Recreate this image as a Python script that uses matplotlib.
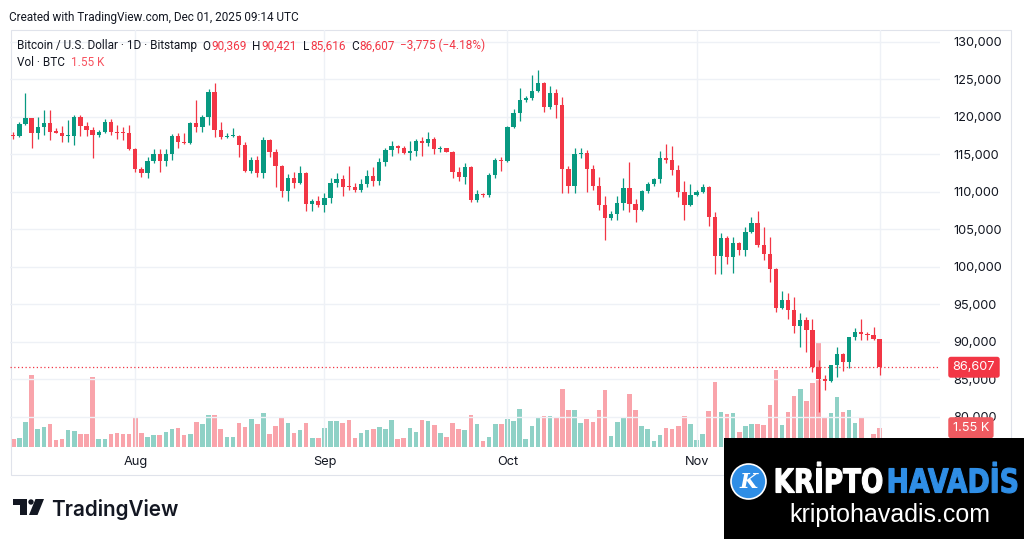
"""BTC/USD daily candles with volume, TradingView-style snapshot."""

import matplotlib

matplotlib.use("Agg")

import matplotlib.dates as mdates
import matplotlib.pyplot as plt
import matplotlib.transforms as mtransforms
import numpy as np
import pandas as pd
from matplotlib.font_manager import FontProperties
from matplotlib.patches import Circle, PathPatch, Polygon, Rectangle
from matplotlib.textpath import TextPath

W, H = 1024, 539
UP = "#089981"
DOWN = "#F23645"
TEXT = "#131722"
GRID = "#EEF1F6"
FONT = ["Inter", "DejaVu Sans"]
HEAD_FONT = ["Roboto", "DejaVu Sans"]
HEAD_SIZE = 8.45

plt.rcParams["font.family"] = FONT

dates = pd.date_range("2025-07-12", "2025-12-01", freq="D")

# daily OHLC, thousands of USD
opens = [
    117.6, 117.5, 119.0, 119.8, 117.8, 118.7, 119.2, 118.1, 117.9, 117.4,
    117.5, 120.0, 118.8, 118.3, 117.6, 118.0, 119.35, 118.0, 117.9, 117.8,
    115.7, 113.1, 112.5, 114.1, 115.0, 114.1, 115.0, 117.4, 116.7, 116.5,
    119.2, 118.7, 120.0, 123.3, 118.3, 117.35, 117.45, 117.5, 116.2, 112.8,
    114.2, 112.5, 116.9, 115.35, 113.4, 110.1, 111.8, 111.2, 112.5, 108.4,
    108.8, 108.25, 109.2, 111.2, 111.7, 110.7, 110.6, 110.2, 111.05, 112.1,
    111.5, 114.0, 115.6, 116.1, 115.9, 115.2, 115.4, 116.8, 116.45, 117.0,
    115.7, 115.8, 115.35, 112.7, 112.0, 113.35, 108.9, 109.7, 109.55, 112.2,
    114.3, 114.1, 118.6, 120.5, 122.2, 122.5, 123.4, 124.5, 121.35, 123.2,
    121.6, 113.0, 110.8, 115.0, 115.2, 113.1, 110.8, 108.2, 106.5, 107.1,
    108.55, 110.5, 108.4, 107.6, 110.1, 111.0, 111.65, 114.5, 114.2, 112.9,
    110.0, 108.2, 109.6, 110.0, 110.6, 106.6, 101.4, 103.9, 101.35, 103.2,
    102.3, 104.7, 105.9, 102.9, 101.7, 99.7, 94.5, 95.6, 94.2, 92.15,
    92.9, 91.6, 86.6, 85.0, 84.8, 86.9, 88.4, 87.35, 90.6, 91.35,
    91.0, 90.9, 90.369,
]
highs = [
    118.0, 119.3, 123.2, 119.8, 120.0, 120.9, 120.9, 118.5, 118.8, 119.6,
    120.2, 120.2, 119.3, 118.7, 118.2, 119.7, 119.7, 118.9, 118.7, 118.9,
    115.8, 113.3, 114.7, 115.7, 115.7, 115.7, 117.7, 117.9, 117.9, 119.35,
    122.2, 120.2, 123.7, 124.5, 119.35, 117.9, 118.5, 117.6, 116.7, 114.6,
    114.8, 117.35, 117.0, 115.7, 113.6, 112.4, 112.7, 113.4, 112.6, 109.0,
    109.4, 109.9, 111.8, 112.55, 112.2, 113.4, 111.2, 111.7, 112.9, 113.35,
    114.5, 115.9, 116.8, 116.3, 116.1, 116.8, 117.0, 117.35, 118.0, 117.35,
    116.1, 115.9, 115.5, 113.3, 113.9, 113.4, 110.2, 109.8, 112.5, 114.5,
    114.7, 118.8, 121.1, 123.8, 122.8, 125.6, 126.2, 124.7, 124.1, 123.7,
    122.6, 113.4, 115.8, 115.9, 115.6, 113.6, 112.0, 109.4, 107.5, 109.4,
    111.8, 114.0, 109.0, 110.25, 111.35, 111.9, 115.5, 116.4, 116.1, 113.6,
    111.5, 111.0, 110.2, 111.1, 110.8, 107.35, 104.55, 104.1, 104.0, 103.3,
    105.35, 106.6, 107.5, 105.3, 104.0, 99.8, 96.8, 96.5, 96.0, 93.8,
    93.3, 93.1, 87.6, 85.6, 86.9, 89.35, 88.55, 90.7, 91.8, 93.1,
    91.35, 92.0, 90.421,
]
lows = [
    117.1, 117.3, 118.9, 115.8, 117.1, 117.6, 116.9, 117.8, 116.6, 116.7,
    116.2, 117.4, 117.4, 114.5, 117.3, 117.9, 117.6, 117.0, 116.9, 115.6,
    112.7, 112.0, 111.9, 113.8, 112.7, 113.4, 114.3, 115.9, 116.4, 116.4,
    118.0, 118.0, 118.9, 117.3, 117.1, 117.2, 117.3, 114.7, 112.7, 112.5,
    112.0, 111.8, 114.6, 110.7, 109.35, 108.8, 110.5, 111.0, 107.5, 107.5,
    108.0, 107.35, 108.5, 110.6, 109.4, 110.2, 110.0, 110.0, 110.7, 110.8,
    110.9, 113.4, 114.8, 115.2, 115.0, 114.3, 114.8, 114.8, 116.1, 115.1,
    115.35, 115.3, 111.9, 111.5, 111.1, 108.7, 108.7, 109.3, 109.35, 111.8,
    112.8, 114.0, 118.5, 119.5, 122.0, 122.2, 123.3, 120.7, 121.1, 119.8,
    109.8, 109.8, 109.8, 114.5, 110.0, 110.2, 107.6, 103.6, 106.3, 106.2,
    107.6, 107.35, 106.0, 107.5, 109.9, 110.8, 111.2, 113.9, 112.2, 109.35,
    106.2, 108.1, 109.4, 109.8, 105.4, 99.1, 99.1, 100.4, 99.2, 101.6,
    101.4, 104.5, 102.6, 100.9, 98.0, 94.0, 94.4, 93.0, 91.2, 89.3,
    88.6, 86.0, 80.7, 83.6, 84.7, 85.35, 86.15, 86.5, 90.2, 90.3,
    90.3, 90.2, 85.616,
]
closes = [
    117.5, 119.0, 119.8, 117.8, 118.7, 119.2, 118.0, 117.9, 117.4, 117.5,
    120.0, 118.8, 118.3, 117.6, 118.0, 119.35, 118.0, 117.9, 117.8, 115.7,
    113.1, 112.5, 114.1, 115.0, 114.1, 115.0, 117.4, 116.7, 116.5, 119.2,
    118.7, 120.0, 123.3, 118.3, 117.35, 117.45, 117.5, 116.2, 112.8, 114.2,
    112.5, 116.9, 115.35, 113.4, 110.1, 111.8, 111.2, 112.5, 108.4, 108.8,
    108.25, 109.2, 111.2, 111.7, 110.7, 110.6, 110.2, 111.05, 112.1, 111.5,
    114.0, 115.6, 116.1, 115.9, 115.2, 115.4, 116.8, 116.45, 117.0, 115.7,
    115.8, 115.35, 112.7, 112.0, 113.35, 108.9, 109.7, 109.55, 112.2, 114.3,
    114.1, 118.6, 120.5, 122.2, 122.5, 123.4, 124.5, 121.35, 123.2, 121.6,
    113.0, 110.8, 115.0, 115.2, 113.1, 110.8, 108.2, 106.5, 107.1, 108.55,
    110.5, 108.4, 107.6, 110.1, 111.0, 111.65, 114.5, 114.2, 112.9, 110.0,
    108.2, 109.6, 110.0, 110.6, 106.6, 101.4, 103.9, 101.35, 103.2, 102.3,
    104.7, 105.9, 102.9, 101.7, 99.7, 94.5, 95.6, 94.2, 92.15, 92.9,
    91.6, 86.6, 85.0, 84.8, 86.9, 88.4, 87.35, 90.6, 91.35, 91.0,
    90.9, 90.382, 86.607,
]
# daily volume, thousands of BTC
volumes = [
    0.67, 0.69, 2.00, 5.75, 1.47, 1.60, 1.82, 0.59, 0.67, 1.34,
    1.28, 1.02, 1.07, 5.61, 0.61, 0.61, 1.07, 1.15, 1.02, 1.02,
    2.30, 1.12, 0.80, 0.96, 0.96, 1.23, 1.44, 1.55, 0.96, 1.02,
    2.03, 1.82, 2.57, 2.54, 1.47, 0.80, 0.80, 1.90, 1.63, 2.22,
    1.87, 2.70, 1.02, 1.68, 2.40, 1.90, 1.10, 1.34, 1.95, 0.75,
    0.72, 1.55, 2.08, 2.08, 1.90, 2.16, 0.75, 1.15, 1.36, 1.47,
    1.60, 1.47, 2.14, 0.67, 0.75, 1.50, 1.23, 2.14, 2.08, 1.76,
    1.12, 0.80, 1.95, 1.47, 1.34, 2.57, 1.82, 0.48, 0.80, 1.87,
    1.87, 2.27, 2.08, 3.02, 0.67, 1.66, 2.40, 2.46, 2.51, 2.35,
    4.62, 2.94, 2.94, 1.92, 2.24, 2.00, 2.94, 4.54, 0.86, 2.00,
    2.40, 4.28, 2.94, 1.71, 1.42, 0.48, 0.94, 1.50, 1.42, 1.66,
    2.46, 1.82, 0.56, 1.02, 2.89, 5.24, 2.83, 2.67, 2.75, 1.23,
    1.68, 1.82, 1.82, 1.76, 3.34, 6.15, 1.76, 2.83, 4.09, 4.68,
    3.69, 5.10, 8.31, 2.40, 2.75, 4.01, 2.83, 2.94, 1.92, 2.35,
    0.69, 1.07, 1.55,
]
month_ticks = pd.to_datetime(["2025-08-01", "2025-09-01", "2025-10-01",
                              "2025-11-01", "2025-12-01"])
price_ticks = np.arange(80_000, 130_001, 5_000)

o = np.array(opens) * 1000
h = np.array(highs) * 1000
l = np.array(lows) * 1000
c = np.array(closes) * 1000
v = np.array(volumes)
x = mdates.date2num(dates)
up = c >= o
colors = np.where(up, UP, DOWN)

# image pixels (y down) -> display
PX = mtransforms.Affine2D().scale(1, -1).translate(0, H)

fig = plt.figure(figsize=(W / 100, H / 100), dpi=100, facecolor="white")
left, right, top, bottom = 10, 940, 30, 447
ax = fig.add_axes([left / W, 1 - bottom / H, (right - left) / W, (bottom - top) / H])
vol_ax = ax.twinx()
ax.set_zorder(vol_ax.get_zorder() + 1)
ax.patch.set_visible(False)

vol_ax.bar(x, v, width=0.75, color=colors, alpha=0.45, linewidth=0)
vol_ax.set_ylim(0, (bottom - top) / 12.47)
vol_ax.yaxis.set_visible(False)

ax.vlines(x, l, h, colors=colors, linewidth=0.9, zorder=2)
body = np.maximum(np.abs(c - o), 120)
ax.bar(x, body, bottom=np.minimum(o, c), width=0.7, color=colors, linewidth=0, zorder=3)

ax.set_xlim(x[0] - 0.54, x[0] + 151.9)
ax.set_ylim(75_973, 131_573)
ax.yaxis.tick_right()
ax.set_yticks(price_ticks)
ax.yaxis.set_major_formatter(plt.FuncFormatter(lambda val, _: f"{val:,.0f}"))
ax.set_xticks(mdates.date2num(month_ticks))
ax.xaxis.set_major_formatter(mdates.DateFormatter("%b"))
ax.tick_params(axis="y", length=0, pad=9.4, labelsize=9.2, labelcolor=TEXT)
ax.tick_params(axis="x", length=0, pad=6.5, labelsize=9.2, labelcolor=TEXT)
for axis in (ax, vol_ax):
    for spine in axis.spines.values():
        spine.set_visible(False)
for t in price_ticks:
    ax.axhline(t, color=GRID, linewidth=1, zorder=0)
for t in mdates.date2num(month_ticks):
    ax.axvline(t, color=GRID, linewidth=1, zorder=0)

# last price line and scale tags
ax.axhline(c[-1], color=DOWN, linestyle=(0, (1, 2)), linewidth=0.9, zorder=1)
ax.text(1.0137, c[-1], f"{c[-1]:,.0f}", transform=ax.get_yaxis_transform(),
        ha="left", va="center", fontsize=9.2, color="white", zorder=6, clip_on=False,
        bbox=dict(boxstyle="round,pad=0.35,rounding_size=0.2", fc=DOWN, ec="none"))
vol_tr = mtransforms.blended_transform_factory(ax.transAxes, vol_ax.transData)
ax.text(1.0137, v[-1], f"{v[-1]:.2f} K", transform=vol_tr,
        ha="left", va="center", fontsize=9.2, color="white", zorder=6, clip_on=False,
        bbox=dict(boxstyle="round,pad=0.35,rounding_size=0.2", fc="#EF5A60", ec="none"))

# pane border
fig.add_artist(Rectangle((11, 30), 1000, 445, transform=PX, fill=False,
                         edgecolor="#E0E3EB", linewidth=0.8))


def text_run(x0, baseline, pieces, size):
    renderer = fig.canvas.get_renderer()
    xp = x0
    for gap, s, color in pieces:
        xp += gap
        t = fig.text(xp, baseline, s, transform=PX, color=color, fontsize=size,
                     family=HEAD_FONT, ha="left", va="baseline")
        xp = t.get_window_extent(renderer).x1


change = c[-1] - c[-2]
fig.text(9, 20.5, "Created with TradingView.com, Dec 01, 2025 09:14 UTC",
         transform=PX, fontsize=HEAD_SIZE, family=HEAD_FONT, color=TEXT, va="baseline")
text_run(17, 49.5, [
    (0, "Bitcoin / U.S. Dollar · 1D · Bitstamp", TEXT),
    (5.5, "O", TEXT), (1, f"{o[-1]:,.0f}", DOWN),
    (5.5, "H", TEXT), (1, f"{h[-1]:,.0f}", DOWN),
    (5.5, "L", TEXT), (1, f"{l[-1]:,.0f}", DOWN),
    (5.5, "C", TEXT), (1, f"{c[-1]:,.0f}", DOWN),
    (5.5, f"\u2212{abs(change):,.0f} (\u2212{abs(change) / c[-2] * 100:.2f}%)", DOWN),
], HEAD_SIZE)
text_run(17, 66.5, [(0, "Vol · BTC", TEXT), (6.5, f"{v[-1]:.2f} K", "#F7525F")], HEAD_SIZE)

# TradingView logo
fig.add_artist(Polygon([(13, 499), (27, 499), (27, 515), (20, 515), (20, 505), (13, 505)],
                       closed=True, transform=PX, fc=TEXT, ec="none"))
fig.add_artist(Circle((31, 502), 2.7, transform=PX, fc=TEXT, ec="none"))
fig.add_artist(Polygon([(35.5, 499), (44, 499), (37.5, 515), (29, 515)],
                       closed=True, transform=PX, fc=TEXT, ec="none"))
fig.text(51, 515.5, "TradingView", transform=PX, fontsize=14.9, fontweight="semibold",
         color=TEXT, va="baseline")

# watermark box
fig.add_artist(Rectangle((724, 438), 300, 101, transform=PX, fc="black", ec="none", zorder=10))


def fit_word(word, x0, y0, x1, y1, color):
    path = TextPath((0, 0), word, size=100,
                    prop=FontProperties(family="DejaVu Sans", weight="bold"))
    ext = path.get_extents()
    tr = (mtransforms.Affine2D().translate(-ext.x0, -ext.y0)
          .scale((x1 - x0) / ext.width, -(y1 - y0) / ext.height)
          .translate(x0, y1) + PX)
    fig.add_artist(PathPatch(path, transform=tr, fc=color, ec=color, lw=0.8, zorder=11))


fit_word("KRİPTO", 776, 462, 882, 493, "white")
fit_word("HAVADİS", 889, 462, 1017, 493, "#2F8EE6")
fig.add_artist(Circle((748.5, 481.5), 17.5, transform=PX, fc="#2F8EE6", ec="white",
                      lw=1.2, zorder=11))
fig.text(748.5, 482, "K", transform=PX, fontsize=15, fontweight="bold", style="italic",
         family="DejaVu Serif", color="white", ha="center", va="center", zorder=12)
fig.text(889.5, 522, "kriptohavadis.com", transform=PX, fontsize=18,
         family="Liberation Sans", color="white", ha="center", va="baseline", zorder=12)

fig.savefig("out.png", dpi=100, facecolor="white")
